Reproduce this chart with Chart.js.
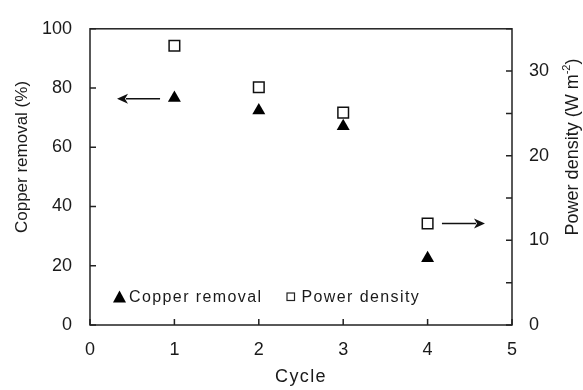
<!DOCTYPE html>
<html>
<head>
<meta charset="utf-8">
<script src="https://cdn.jsdelivr.net/npm/chart.js@4.4.0/dist/chart.umd.min.js"></script>
<style>
  html, body { margin: 0; padding: 0; background: #fff; }
</style>
</head>
<body>
<canvas id="chart" width="583" height="390"></canvas>
<script>
// values
const cycles = [1, 2, 3, 4];
const copperRemoval = [76.6, 72.4, 67.1, 22.5];   // %
const powerDensity = [33.0, 28.1, 25.1, 12.0];    // W m-2

// arrows telling which axis belongs to which series: [x from, x to, y]
const leftArrow = [0.83, 0.32, 76.4];    // copper removal -> left axis
const rightArrow = [4.17, 4.68, 12.0];   // power density -> right axis

const FONT = "'Liberation Sans', Arial, sans-serif";
const INK = "#1a1a1a";

function drawArrow(ctx, x0, y, x1) {
  const dir = x1 > x0 ? 1 : -1;
  const head = 11;
  ctx.beginPath();
  ctx.moveTo(x0, y);
  ctx.lineTo(x1 - dir * (head - 2), y);
  ctx.stroke();
  ctx.beginPath();
  ctx.moveTo(x1, y);
  ctx.lineTo(x1 - dir * head, y - 5);
  ctx.lineTo(x1 - dir * (head - 3), y);
  ctx.lineTo(x1 - dir * head, y + 5);
  ctx.closePath();
  ctx.fill();
}

const decor = {
  id: "decor",
  afterDatasetsDraw(chart) {
    const { ctx, chartArea: a, scales } = chart;
    ctx.save();

    // frame round the plot
    ctx.strokeStyle = "#222";
    ctx.lineWidth = 1.5;
    ctx.strokeRect(a.left, a.top, a.right - a.left, a.bottom - a.top);

    // ticks pointing inwards
    const tl = 6;
    ctx.beginPath();
    scales.x.ticks.forEach(t => {
      const px = scales.x.getPixelForValue(t.value);
      ctx.moveTo(px, a.bottom); ctx.lineTo(px, a.bottom - tl);
    });
    scales.y.ticks.forEach(t => {
      const py = scales.y.getPixelForValue(t.value);
      ctx.moveTo(a.left, py); ctx.lineTo(a.left + tl, py);
    });
    scales.y1.ticks.forEach(t => {
      const py = scales.y1.getPixelForValue(t.value);
      ctx.moveTo(a.right, py); ctx.lineTo(a.right - tl, py);
    });
    ctx.stroke();

    // arrows
    ctx.strokeStyle = "#111";
    ctx.fillStyle = "#111";
    ctx.lineWidth = 1.6;
    drawArrow(ctx, scales.x.getPixelForValue(leftArrow[0]), scales.y.getPixelForValue(leftArrow[2]),
      scales.x.getPixelForValue(leftArrow[1]));
    drawArrow(ctx, scales.x.getPixelForValue(rightArrow[0]), scales.y1.getPixelForValue(rightArrow[2]),
      scales.x.getPixelForValue(rightArrow[1]));

    // legend inside the plot
    ctx.fillStyle = "#000";
    ctx.beginPath();
    ctx.moveTo(119.5, 290.5); ctx.lineTo(126, 302.5); ctx.lineTo(113, 302.5);
    ctx.closePath();
    ctx.fill();
    ctx.strokeStyle = "#222";
    ctx.lineWidth = 1.2;
    ctx.strokeRect(287, 293, 7.5, 7.5);
    ctx.fillStyle = INK;
    ctx.font = "16px " + FONT;
    ctx.letterSpacing = "1.4px";
    ctx.textBaseline = "alphabetic";
    ctx.textAlign = "left";
    ctx.fillText(chart.data.datasets[0].label, 129, 301.5);
    ctx.fillText(chart.data.datasets[1].label, 301.5, 301.5);

    // x title
    ctx.font = "18px " + FONT;
    ctx.textAlign = "center";
    ctx.fillText("Cycle", (a.left + a.right) / 2, 382);
    ctx.letterSpacing = "0px";

    // left title
    ctx.save();
    ctx.translate(22, 157);
    ctx.rotate(-Math.PI / 2);
    ctx.font = "17px " + FONT;
    ctx.textBaseline = "middle";
    ctx.fillText("Copper removal (%)", 0, 0);
    ctx.restore();

    // right title with superscript
    ctx.save();
    ctx.translate(573, 147);
    ctx.rotate(-Math.PI / 2);
    ctx.textBaseline = "middle";
    ctx.textAlign = "left";
    const main = "Power density (W m", sup = "-2", tail = ")";
    ctx.font = "18px " + FONT;
    const w1 = ctx.measureText(main).width, w3 = ctx.measureText(tail).width;
    ctx.font = "11px " + FONT;
    const w2 = ctx.measureText(sup).width;
    let x = -(w1 + w2 + w3) / 2;
    ctx.font = "18px " + FONT;
    ctx.fillText(main, x, 0); x += w1;
    ctx.font = "11px " + FONT;
    ctx.fillText(sup, x, -6); x += w2;
    ctx.font = "18px " + FONT;
    ctx.fillText(tail, x, 0);
    ctx.restore();

    ctx.restore();
  }
};

const tickFont = { family: FONT, size: 18 };

new Chart(document.getElementById("chart"), {
  type: "scatter",
  data: {
    datasets: [
      {
        label: "Copper removal",
        data: cycles.map((c, i) => ({ x: c, y: copperRemoval[i] })),
        yAxisID: "y",
        pointStyle: "triangle",
        pointRadius: 7.5,
        backgroundColor: "#000",
        borderColor: "#000",
        borderWidth: 0
      },
      {
        label: "Power density",
        data: cycles.map((c, i) => ({ x: c, y: powerDensity[i] })),
        yAxisID: "y1",
        pointStyle: "rect",
        pointRadius: 7.5,
        backgroundColor: "#fff",
        borderColor: "#111",
        borderWidth: 1.5
      }
    ]
  },
  options: {
    responsive: false,
    animation: false,
    devicePixelRatio: 1,
    layout: { padding: { top: 22, left: 0, right: 0, bottom: 0 } },
    plugins: {
      legend: { display: false },
      tooltip: { enabled: false }
    },
    scales: {
      x: {
        type: "linear",
        min: 0, max: 5,
        grid: { display: false, drawTicks: false },
        border: { display: false },
        ticks: { stepSize: 1, font: tickFont, color: INK, padding: 14 },
        afterFit(scale) { scale.height = 65; }
      },
      y: {
        position: "left",
        min: 0, max: 100,
        grid: { display: false, drawTicks: false },
        border: { display: false },
        ticks: { stepSize: 20, font: tickFont, color: INK, padding: 18 },
        afterFit(scale) { scale.width = 90; }
      },
      y1: {
        position: "right",
        min: 0, max: 35,
        grid: { display: false, drawTicks: false },
        border: { display: false },
        ticks: {
          stepSize: 5, font: tickFont, color: INK, padding: 17,
          callback: v => (v % 10 === 0 ? v : "")
        },
        afterFit(scale) { scale.width = 71; }
      }
    }
  },
  plugins: [decor]
});
</script>
</body>
</html>
